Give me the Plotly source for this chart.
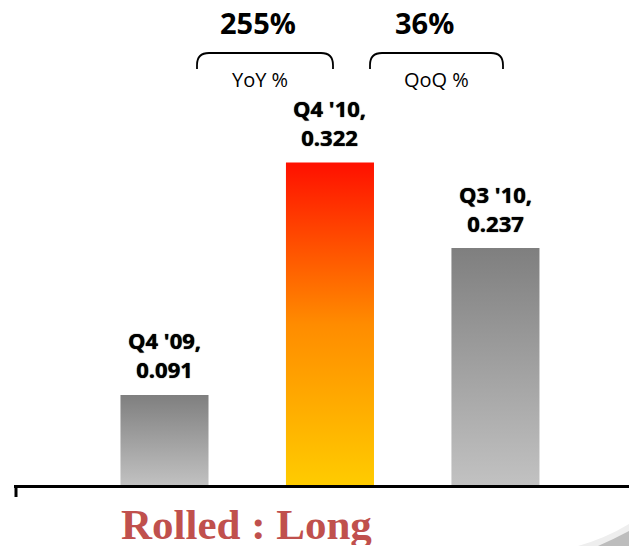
import plotly.graph_objects as go

# Quarterly values
periods = ["Q4 '09", "Q4 '10", "Q3 '10"]
values = [0.091, 0.322, 0.237]
value_text = ["0.091", "0.322", "0.237"]

# Growth of the latest quarter
growth_names = ["YoY %", "QoQ %"]
growth_values = [255, 36]

W, H = 629, 546
BAR_W = 0.532

gray_scale = [[0, "#C2C2C2"], [1, "#7F7F7F"]]
hot_scale = [[0, "#FFCC00"], [0.5, "#FF8C00"], [1, "#FF1000"]]
scales = [gray_scale, hot_scale, gray_scale]


def px(x):
    return x / W


def py(y):
    return 1 - y / H


def note(x, y, text, font, height=None):
    fig.add_annotation(xref="paper", yref="paper", x=px(x), y=py(y), text=text,
                       showarrow=False, xanchor="center", yanchor="middle",
                       font=font, height=height)


fig = go.Figure()

label_font = dict(family="Open Sans", size=22, color="black", weight="bold",
                  shadow="0px 0px 1px #000")
for i, (name, v, vt) in enumerate(zip(periods, values, value_text)):
    x0, x1 = i - BAR_W / 2, i + BAR_W / 2
    fig.add_trace(go.Scatter(
        x=[x0, x1, x1, x0, x0],
        y=[0, 0, v, v, 0],
        mode="lines",
        fill="toself",
        fillgradient=dict(type="vertical", colorscale=scales[i]),
        line=dict(width=0),
        hoverinfo="skip",
        showlegend=False,
    ))
    fig.add_annotation(x=i, y=v, text=f"{name},<br>{vt}", showarrow=False,
                       yanchor="middle", yshift=40, font=label_font)

# Growth call-outs with rounded brackets
callouts = [(197, 333), (370, 503)]
value_centers = [257.5, 424.5]
name_centers = [259.5, 436]
for (xa, xb), gname, gval, vc, nc in zip(callouts, growth_names, growth_values,
                                         value_centers, name_centers):
    note(vc, 23, f"{gval}%",
         dict(family="Open Sans", size=29, color="black", weight="bold"))
    note(nc, 79, gname, dict(family="Open Sans", size=20, color="black"))
    r = 12
    path = (f"M {px(xa)},{py(69)} L {px(xa)},{py(53 + r)} "
            f"Q {px(xa)},{py(53)} {px(xa + r)},{py(53)} "
            f"L {px(xb - r)},{py(53)} "
            f"Q {px(xb)},{py(53)} {px(xb)},{py(53 + r)} "
            f"L {px(xb)},{py(69)}")
    fig.add_shape(type="path", xref="paper", yref="paper", path=path,
                  line=dict(color="black", width=1.8))

# Baseline with a short tick at its left end
fig.add_shape(type="line", xref="paper", yref="y", x0=px(14), x1=1, y0=0, y1=0,
              line=dict(color="black", width=3))
fig.add_shape(type="line", xref="paper", yref="paper", x0=px(16), x1=px(16),
              y0=py(486), y1=py(497), line=dict(color="black", width=3))

# Soft gray swoosh in the lower right corner
fig.add_shape(type="path", xref="paper", yref="paper",
              path=(f"M {px(578)},{py(546)} Q {px(606)},{py(538)} {px(629)},{py(524)} "
                    f"L {px(629)},{py(546)} Z"),
              fillcolor="#EEEEEE", line=dict(width=0), layer="below")
fig.add_shape(type="path", xref="paper", yref="paper",
              path=(f"M {px(598)},{py(546)} Q {px(614)},{py(539)} {px(629)},{py(531)} "
                    f"L {px(629)},{py(546)} Z"),
              fillcolor="#BDBDBD", line=dict(width=0), layer="below")

note(246, 524, "Rolled : Long",
     dict(family="Liberation Serif", size=43, color="#C0504D", weight="bold"),
     height=42)

fig.update_layout(
    width=W, height=H,
    margin=dict(l=0, r=0, t=0, b=0),
    paper_bgcolor="white", plot_bgcolor="white",
    xaxis=dict(range=[-0.994, 2.807], visible=False, fixedrange=True),
    yaxis=dict(range=[-0.0591, 0.4836], visible=False, fixedrange=True),
    showlegend=False,
)

fig.write_html("out.html")
